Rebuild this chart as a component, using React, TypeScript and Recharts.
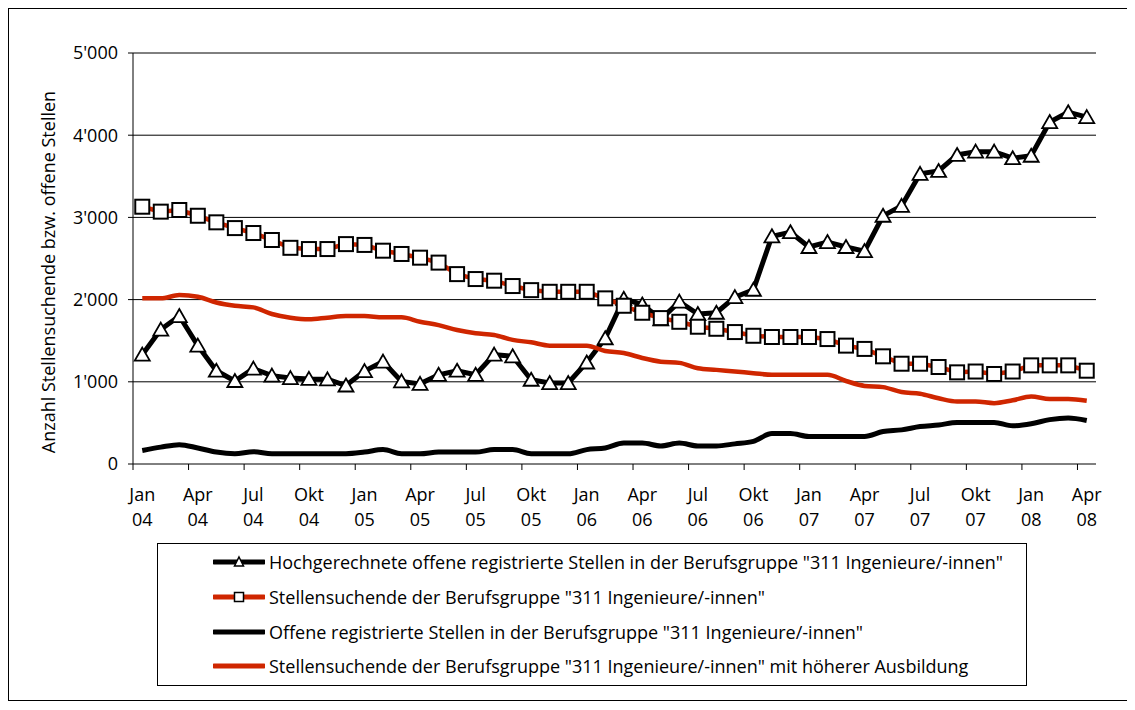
import React from 'react';
import {LineChart, Line, XAxis, YAxis, CartesianGrid} from 'recharts';

// Monats-Kategorien Jan 04 .. Apr 08
const periods = [
    'Jan 04', 'Feb 04', 'Mär 04', 'Apr 04', 'Mai 04', 'Jun 04', 'Jul 04', 'Aug 04', 'Sep 04', 'Okt 04', 'Nov 04', 'Dez 04',
    'Jan 05', 'Feb 05', 'Mär 05', 'Apr 05', 'Mai 05', 'Jun 05', 'Jul 05', 'Aug 05', 'Sep 05', 'Okt 05', 'Nov 05', 'Dez 05',
    'Jan 06', 'Feb 06', 'Mär 06', 'Apr 06', 'Mai 06', 'Jun 06', 'Jul 06', 'Aug 06', 'Sep 06', 'Okt 06', 'Nov 06', 'Dez 06',
    'Jan 07', 'Feb 07', 'Mär 07', 'Apr 07', 'Mai 07', 'Jun 07', 'Jul 07', 'Aug 07', 'Sep 07', 'Okt 07', 'Nov 07', 'Dez 07',
    'Jan 08', 'Feb 08', 'Mär 08', 'Apr 08',
];

const hochgerechnet = [
    1330, 1635, 1800, 1440, 1135, 1010, 1160, 1075, 1045, 1035, 1030, 955,
    1130, 1245, 1005, 975, 1085, 1135, 1085, 1330, 1310, 1025, 985, 985,
    1235, 1530, 2010, 1940, 1760, 1975, 1825, 1840, 2030, 2120, 2770, 2820,
    2640, 2700, 2640, 2590, 3020, 3140, 3530, 3565, 3760, 3800, 3800, 3720,
    3750, 4160, 4280, 4220,
];

const stellensuchende = [
    3130, 3070, 3090, 3020, 2940, 2870, 2810, 2725, 2630, 2615, 2615, 2675,
    2665, 2595, 2555, 2510, 2450, 2310, 2250, 2230, 2165, 2115, 2095, 2095,
    2095, 2015, 1925, 1840, 1775, 1730, 1670, 1645, 1605, 1560, 1545, 1545,
    1545, 1520, 1440, 1400, 1310, 1220, 1220, 1180, 1115, 1125, 1095, 1125,
    1200, 1200, 1200, 1135,
];

const offeneStellen = [
    165, 205, 235, 195, 145, 125, 150, 125, 125, 125, 125, 125,
    145, 175, 125, 125, 145, 145, 145, 175, 175, 125, 125, 125,
    175, 195, 255, 255, 220, 255, 220, 220, 245, 275, 370, 370,
    335, 335, 335, 335, 395, 415, 455, 475, 505, 505, 505, 465,
    490, 540, 560, 530,
];

const hoehereAusbildung = [
    2015, 2015, 2055, 2035, 1965, 1925, 1905, 1825, 1780, 1760, 1780, 1800,
    1800, 1785, 1785, 1730, 1690, 1630, 1590, 1570, 1510, 1480, 1440, 1440,
    1440, 1375, 1350, 1290, 1245, 1230, 1165, 1145, 1125, 1105, 1085, 1085,
    1085, 1085, 1010, 950, 935, 875, 855, 800, 760, 760, 740, 775,
    820, 790, 790, 770,
];

const xTicks = [0, 3, 6, 9, 12, 15, 18, 21, 24, 27, 30, 33, 36, 39, 42, 45, 48, 51];
const yTicks = [0, 1000, 2000, 3000, 4000, 5000];

const seriesNames = [
    'Hochgerechnete offene registrierte Stellen in der Berufsgruppe "311 Ingenieure/-innen"',
    'Stellensuchende der Berufsgruppe "311 Ingenieure/-innen"',
    'Offene registrierte Stellen in der Berufsgruppe "311 Ingenieure/-innen"',
    'Stellensuchende der Berufsgruppe "311 Ingenieure/-innen" mit höherer Ausbildung',
];

const RED = '#CF2600';
const FONT = '"Open Sans", "DejaVu Sans", sans-serif';
const FS = 18;

const data = periods.map((p, i) => ({
    idx: i,
    period: p,
    hoch: hochgerechnet[i],
    such: stellensuchende[i],
    offen: offeneStellen[i],
    hoeher: hoehereAusbildung[i],
}));

// chart geometry
const CHART_W = 1100;
const CHART_H = 530;
const MARGIN = {top: 44, right: 13, bottom: 5, left: 0};
const Y_AXIS_W = 124;
const PLOT_W = CHART_W - MARGIN.right - MARGIN.left - Y_AXIS_W;
const HALF_STEP = PLOT_W / periods.length / 2;

const fmt = (v: number) => (v === 0 ? '0' : `${Math.floor(v / 1000)}'${String(v % 1000).padStart(3, '0')}`);

const XTick = (props: any) => {
    const {x, y, payload} = props;
    const [m, yy] = periods[payload.value].split(' ');
    return (
        <g>
            <line x1={x - HALF_STEP} x2={x - HALF_STEP} y1={y} y2={y + 6} stroke="#000" strokeWidth={1}/>
            <text x={x} y={y + 37} textAnchor="middle" fontSize={FS} fill="#000" fontFamily={FONT}>{m}</text>
            <text x={x} y={y + 62} textAnchor="middle" fontSize={FS} fill="#000" fontFamily={FONT}>{yy}</text>
        </g>
    );
};

const YTitle = () => (
    <text x={39} y={263} transform="rotate(-90, 39, 263)" textAnchor="middle" dominantBaseline="central"
          fontSize={FS} fill="#000" fontFamily={FONT}>
        Anzahl Stellensuchende bzw. offene Stellen
    </text>
);

const triangleDot = (p: any) => {
    const {cx, cy, index} = p;
    return (
        <polygon key={`t-${index}`} points={`${cx},${cy - 7} ${cx + 7.5},${cy + 6} ${cx - 7.5},${cy + 6}`}
                 fill="#fff" stroke="#000" strokeWidth={1.8}/>
    );
};

const squareDot = (p: any) => {
    const {cx, cy, index} = p;
    return <rect key={`s-${index}`} x={cx - 7} y={cy - 7} width={14} height={14} fill="#fff" stroke="#000" strokeWidth={2}/>;
};

const LegendRow = ({top, color, marker, label}: { top: number; color: string; marker?: 'tri' | 'sq'; label: string }) => (
    <div style={{position: 'absolute', left: 55, top: top - 12, height: 24, display: 'flex', alignItems: 'center', whiteSpace: 'nowrap'}}>
        <svg width={52} height={16} style={{display: 'block'}}>
            <line x1={1} x2={51} y1={8} y2={8} stroke={color} strokeWidth={5} strokeLinecap="round"/>
            {marker === 'tri' && <polygon points="26,3 30.5,12 21.5,12" fill="#fff" stroke="#000" strokeWidth={1.5}/>}
            {marker === 'sq' && <rect x={21.5} y={3.5} width={9} height={9} fill="#fff" stroke="#000" strokeWidth={1.5}/>}
        </svg>
        <span style={{marginLeft: 4, fontSize: FS, lineHeight: '24px'}}>{label}</span>
    </div>
);

export default function App() {
    return (
        <div style={{position: 'relative', width: 1120, height: 693, border: '1px solid #000', boxSizing: 'border-box', fontFamily: FONT, background: '#fff'}}>
            <div style={{position: 'absolute', left: 0, top: 0}}>
                <LineChart width={CHART_W} height={CHART_H} data={data} margin={MARGIN}>
                    <CartesianGrid vertical={false} stroke="#000" strokeWidth={1} horizontalValues={[1000, 2000, 3000, 4000, 5000]}/>
                    <XAxis dataKey="idx" type="number" domain={[-0.5, 51.5]} ticks={xTicks} interval={0}
                           axisLine={{stroke: '#000'}} tickLine={false} tickSize={0} tickMargin={0} height={70}
                           tick={<XTick/>}/>
                    <YAxis type="number" domain={[0, 5000]} ticks={yTicks} width={Y_AXIS_W} tickFormatter={fmt}
                           axisLine={{stroke: '#000'}} tickLine={{stroke: '#000'}} tickSize={5} tickMargin={10}
                           tick={{fontSize: FS, fill: '#000', fontFamily: FONT}} label={<YTitle/>}/>
                    <Line dataKey="hoch" type="linear" stroke="#000" strokeWidth={5} dot={triangleDot}
                          activeDot={false} isAnimationActive={false}/>
                    <Line dataKey="such" type="linear" stroke={RED} strokeWidth={4.5} dot={squareDot}
                          activeDot={false} isAnimationActive={false}/>
                    <Line dataKey="offen" type="monotone" stroke="#000" strokeWidth={5} dot={false}
                          activeDot={false} isAnimationActive={false}/>
                    <Line dataKey="hoeher" type="monotone" stroke={RED} strokeWidth={4.5} dot={false}
                          activeDot={false} isAnimationActive={false}/>
                </LineChart>
            </div>
            <div style={{position: 'absolute', left: 148, top: 534, width: 870, height: 143, border: '1px solid #000', boxSizing: 'border-box'}}>
                <LegendRow top={18} color="#000" marker="tri" label={seriesNames[0]}/>
                <LegendRow top={53} color={RED} marker="sq" label={seriesNames[1]}/>
                <LegendRow top={88} color="#000" label={seriesNames[2]}/>
                <LegendRow top={122} color={RED} label={seriesNames[3]}/>
            </div>
        </div>
    );
}
